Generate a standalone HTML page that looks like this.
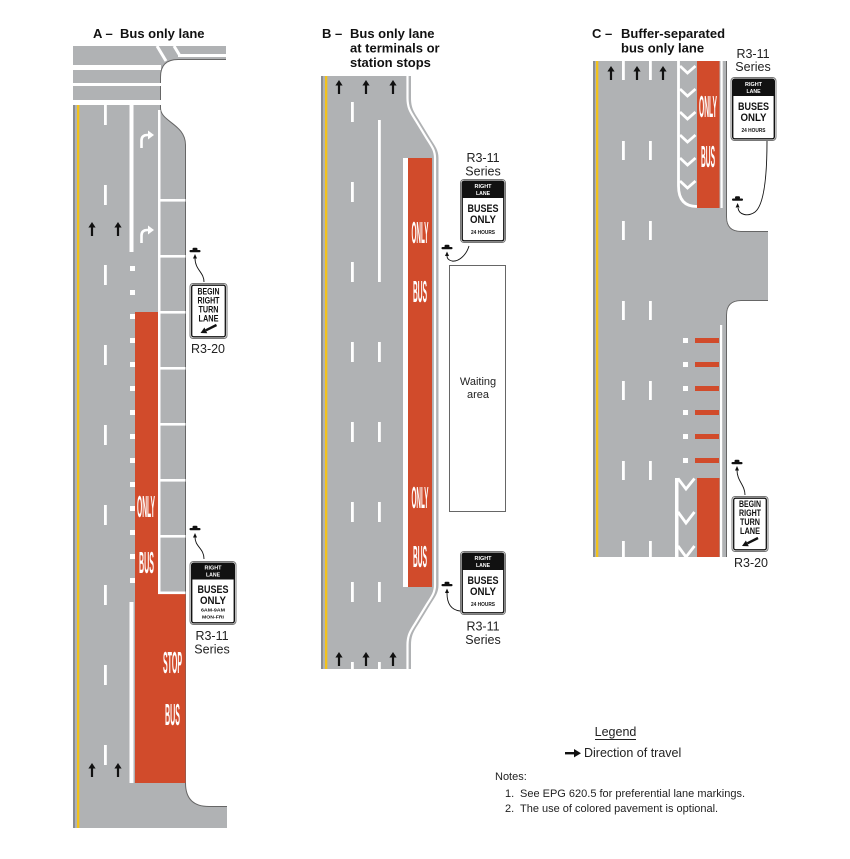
<!DOCTYPE html>
<html><head><meta charset="utf-8"><title>Bus only lane</title>
<style>
html,body{margin:0;padding:0;background:#fff;width:850px;height:859px;overflow:hidden}
svg{display:block}
text{font-family:"Liberation Sans",Arial,sans-serif}
.t{font-size:13px;font-weight:bold;fill:#111}
.l{font-size:12.5px;fill:#222}
.s{font-weight:bold}
.rw{font-weight:bold;fill:#fff;font-size:31px}
</style></head><body>
<svg width="850" height="859" viewBox="0 0 850 859" xmlns="http://www.w3.org/2000/svg" xmlns:xlink="http://www.w3.org/1999/xlink">
<defs>
<path id="ua" d="M0,0 L3.6,5.5 L1.1,5.5 L1.1,14 L-1.1,14 L-1.1,5.5 L-3.6,5.5 Z" fill="#111"/>
<g id="post"><rect x="-5.5" y="0" width="11" height="2.2" rx="1" fill="#111"/><rect x="-2.5" y="-2.2" width="5" height="2.8" rx="1.2" fill="#111"/></g>
</defs>

<!-- ================= PANEL A ================= -->
<text x="93" y="38" class="t">A –</text>
<text x="120" y="38" class="t">Bus only lane</text>

<rect x="73" y="46" width="153" height="14" fill="#b0b2b4"/>
<rect x="73" y="46" width="112.5" height="782" fill="#b0b2b4"/>
<rect x="73" y="780" width="154" height="48" fill="#b0b2b4"/>
<path d="M227,59.5 L178,59.5 Q160.5,59.5 160.5,77 L160.5,108 C160.5,122 185.5,124 185.5,145 L185.5,783 Q185.5,806.5 209,806.5 L240,806.5 L240,59.5 Z" fill="#fff"/>
<path d="M226,59.5 L178,59.5 Q160.5,59.5 160.5,77 L160.5,108 C160.5,122 185.5,124 185.5,145 L185.5,783 Q185.5,806.5 209,806.5 L227,806.5" fill="none" stroke="#666" stroke-width="1"/>

<g fill="#fff">
<rect x="73" y="65" width="88" height="5"/>
<rect x="73" y="83" width="88" height="3"/>
<rect x="73" y="100" width="88" height="5"/>
<rect x="178" y="54" width="48" height="3"/>
</g>
<path d="M157,46 L166,61 M174,46 L179.5,55" stroke="#fff" stroke-width="3" fill="none"/>

<rect x="73" y="105" width="2" height="723" fill="#8a8c8f"/>
<rect x="77" y="105" width="2.3" height="723" fill="#f2c21b"/>

<!-- red lane -->
<rect x="135" y="312" width="23" height="281" fill="#d14b2b"/>
<rect x="135" y="592" width="50.5" height="191" fill="#d14b2b"/>

<g fill="#fff">
<!-- lane dashes -->
<rect x="104" y="105" width="2.8" height="20"/>
<rect x="104" y="185" width="2.8" height="20"/>
<rect x="104" y="265" width="2.8" height="20"/>
<rect x="104" y="345" width="2.8" height="20"/>
<rect x="104" y="425" width="2.8" height="20"/>
<rect x="104" y="505" width="2.8" height="20"/>
<rect x="104" y="585" width="2.8" height="20"/>
<rect x="104" y="665" width="2.8" height="20"/>
<rect x="104" y="745" width="2.8" height="20"/>
<!-- turn lane line -->
<rect x="129.5" y="105" width="4" height="147"/>
<rect x="130" y="266" width="5" height="5"/>
<rect x="130" y="290" width="5" height="5"/>
<rect x="130" y="314" width="5" height="5"/>
<rect x="130" y="338" width="5" height="5"/>
<rect x="130" y="362" width="5" height="5"/>
<rect x="130" y="386" width="5" height="5"/>
<rect x="130" y="410" width="5" height="5"/>
<rect x="130" y="434" width="5" height="5"/>
<rect x="130" y="458" width="5" height="5"/>
<rect x="130" y="482" width="5" height="5"/>
<rect x="130" y="506" width="5" height="5"/>
<rect x="130" y="530" width="5" height="5"/>
<rect x="130" y="554" width="5" height="5"/>
<rect x="130" y="578" width="5" height="5"/>
<rect x="129.5" y="602" width="4" height="181"/>
<!-- parking strip -->
<rect x="158" y="110" width="2.5" height="484"/>
<rect x="158" y="591.5" width="27.5" height="2.6"/>
<rect x="160" y="199" width="25.5" height="2.6"/>
<rect x="160" y="255" width="25.5" height="2.6"/>
<rect x="160" y="311" width="25.5" height="2.6"/>
<rect x="160" y="367" width="25.5" height="2.6"/>
<rect x="160" y="423" width="25.5" height="2.6"/>
<rect x="160" y="479" width="25.5" height="2.6"/>
<rect x="160" y="535" width="25.5" height="2.6"/>
</g>

<!-- turn arrows -->
<g fill="none" stroke="#fff" stroke-width="2.6">
<path d="M141.5,148 L141.5,140.5 Q141.5,135 147.5,135 L149,135"/>
<path d="M141.5,243 L141.5,235.5 Q141.5,230 147.5,230 L149,230"/>
</g>
<g fill="#fff">
<polygon points="148,130.5 154,135 148,139.5"/>
<polygon points="148,225.5 154,230 148,234.5"/>
</g>

<use xlink:href="#ua" x="92" y="222"/>
<use xlink:href="#ua" x="118" y="222"/>
<use xlink:href="#ua" x="92" y="763"/>
<use xlink:href="#ua" x="118" y="763"/>

<text class="rw" x="137" y="517" textLength="18" lengthAdjust="spacingAndGlyphs">ONLY</text>
<text class="rw" x="139" y="573" textLength="15" lengthAdjust="spacingAndGlyphs">BUS</text>
<text class="rw" x="163" y="673" textLength="19" lengthAdjust="spacingAndGlyphs">STOP</text>
<text class="rw" x="165" y="725" textLength="15" lengthAdjust="spacingAndGlyphs">BUS</text>

<!-- A posts & arrows -->
<use xlink:href="#post" x="195" y="250"/>
<path d="M204,282 C204,272 195,270 195,258" fill="none" stroke="#111" stroke-width="0.9"/>
<polygon points="195,254 197,258.5 193,258.5" fill="#111"/>
<use xlink:href="#post" x="195" y="528"/>
<path d="M204,559 C204,548 195,547 195,537" fill="none" stroke="#111" stroke-width="0.9"/>
<polygon points="195,533 197,537.5 193,537.5" fill="#111"/>

<!-- A R3-20 sign -->
<g transform="translate(189.5,283)">
<rect x="0.5" y="0.5" width="37" height="55" rx="3" fill="#fff" stroke="#777" stroke-width="1"/>
<rect x="2.2" y="2.2" width="33.6" height="51.6" rx="1.8" fill="none" stroke="#111" stroke-width="1.3"/>
<g class="s" font-size="9" fill="#111">
<text x="8" y="11.5" textLength="22" lengthAdjust="spacingAndGlyphs">BEGIN</text>
<text x="8" y="20.5" textLength="22" lengthAdjust="spacingAndGlyphs">RIGHT</text>
<text x="9" y="29.5" textLength="20" lengthAdjust="spacingAndGlyphs">TURN</text>
<text x="9" y="38.5" textLength="20" lengthAdjust="spacingAndGlyphs">LANE</text>
</g>
<line x1="27" y1="42" x2="16.4" y2="47.3" stroke="#111" stroke-width="2.4"/>
<polygon points="11,50 17.8,50.2 14.9,44.5" fill="#111"/>
</g>
<text x="208" y="353" class="l" text-anchor="middle">R3-20</text>

<!-- A R3-11 sign -->
<g transform="translate(189.5,561)">
<rect x="0.5" y="0.5" width="46" height="63" rx="3.5" fill="#fff" stroke="#777" stroke-width="1"/>
<rect x="2.2" y="2.2" width="42.6" height="59.6" rx="2" fill="#fff" stroke="#111" stroke-width="1.4"/>
<path d="M2.2,18.5 V4.2 a2,2 0 0 1 2,-2 H42.8 a2,2 0 0 1 2,2 V18.5 Z" fill="#111"/>
<g class="s" fill="#fff" font-size="5.2">
<text x="15" y="8.5" textLength="17" lengthAdjust="spacingAndGlyphs">RIGHT</text>
<text x="16.5" y="15.5" textLength="14" lengthAdjust="spacingAndGlyphs">LANE</text>
</g>
<g class="s" fill="#111">
<text x="8" y="32" font-size="11" textLength="31" lengthAdjust="spacingAndGlyphs">BUSES</text>
<text x="10.5" y="43" font-size="11" textLength="26" lengthAdjust="spacingAndGlyphs">ONLY</text>
<text x="11.5" y="50.5" font-size="4.6" textLength="24" lengthAdjust="spacingAndGlyphs">6AM-9AM</text>
<text x="12.5" y="57.5" font-size="4.6" textLength="22" lengthAdjust="spacingAndGlyphs">MON-FRI</text>
</g>
</g>
<text x="212" y="640" class="l" text-anchor="middle">R3-11</text>
<text x="212" y="653.5" class="l" text-anchor="middle">Series</text>

<!-- ================= PANEL B ================= -->
<text x="322" y="38" class="t">B –</text>
<text x="350" y="38" class="t">Bus only lane</text>
<text x="350" y="52.5" class="t">at terminals or</text>
<text x="350" y="67" class="t">station stops</text>

<path d="M321,76 H411 V98 C411,108 414,112 419,120 L430,138 C435,146 438.5,150 438.5,158 V585 C438.5,593 435,597 430,605 L419,623 C414,631 411,635 411,645 V669 H321 Z" fill="#b0b2b4"/>
<path d="M407.5,76 V98 C407.5,108 410.5,112 415.5,120 L426.5,138 C431.5,146 435,150 435,158 V585 C435,593 431.5,597 426.5,605 L415.5,623 C410.5,631 407.5,635 407.5,645 V669" fill="none" stroke="#fff" stroke-width="2.2"/>
<rect x="321" y="76" width="2" height="593" fill="#8a8c8f"/>
<rect x="325" y="76" width="2.3" height="593" fill="#f2c21b"/>

<g fill="#fff">
<rect x="351" y="102" width="2.8" height="20"/>
<rect x="351" y="182" width="2.8" height="20"/>
<rect x="351" y="262" width="2.8" height="20"/>
<rect x="351" y="342" width="2.8" height="20"/>
<rect x="351" y="422" width="2.8" height="20"/>
<rect x="351" y="502" width="2.8" height="20"/>
<rect x="351" y="582" width="2.8" height="20"/>
<rect x="351" y="662" width="2.8" height="7"/>
<rect x="378" y="120" width="2.8" height="162"/>
<rect x="378" y="342" width="2.8" height="20"/>
<rect x="378" y="422" width="2.8" height="20"/>
<rect x="378" y="502" width="2.8" height="20"/>
<rect x="378" y="582" width="2.8" height="20"/>
<rect x="378" y="662" width="2.8" height="7"/>
<rect x="403" y="158" width="5" height="429"/>
</g>
<rect x="408" y="158" width="24" height="429" fill="#d14b2b"/>

<use xlink:href="#ua" x="339" y="80"/>
<use xlink:href="#ua" x="366" y="80"/>
<use xlink:href="#ua" x="393" y="80"/>
<use xlink:href="#ua" x="339" y="652"/>
<use xlink:href="#ua" x="366" y="652"/>
<use xlink:href="#ua" x="393" y="652"/>

<text class="rw" x="411.5" y="243" textLength="17" lengthAdjust="spacingAndGlyphs">ONLY</text>
<text class="rw" x="413" y="302" textLength="14" lengthAdjust="spacingAndGlyphs">BUS</text>
<text class="rw" x="411.5" y="508" textLength="17" lengthAdjust="spacingAndGlyphs">ONLY</text>
<text class="rw" x="413" y="567" textLength="14" lengthAdjust="spacingAndGlyphs">BUS</text>

<!-- waiting area -->
<rect x="449.5" y="265.5" width="56" height="246" fill="#fff" stroke="#666" stroke-width="1"/>
<text x="478" y="385" font-size="11" fill="#222" text-anchor="middle">Waiting</text>
<text x="478" y="398" font-size="11" fill="#222" text-anchor="middle">area</text>

<!-- B posts -->
<use xlink:href="#post" x="447" y="247"/>
<path d="M469,246 C466,256 458,262 452,261 C448,260 447,258 447,256" fill="none" stroke="#111" stroke-width="0.9"/>
<polygon points="447,251.5 449,256 445,256" fill="#111"/>
<use xlink:href="#post" x="447" y="584"/>
<path d="M460,611 C452,610 447,605 447,593" fill="none" stroke="#111" stroke-width="0.9"/>
<polygon points="447,588.5 449,593 445,593" fill="#111"/>

<!-- B signs -->
<text x="483" y="162" class="l" text-anchor="middle">R3-11</text>
<text x="483" y="175.5" class="l" text-anchor="middle">Series</text>
<g transform="translate(460,179)">
<rect x="0.5" y="0.5" width="45" height="63" rx="3.5" fill="#fff" stroke="#777" stroke-width="1"/>
<rect x="2.2" y="2.2" width="41.6" height="59.6" rx="2" fill="#fff" stroke="#111" stroke-width="1.4"/>
<path d="M2.2,19 V4.2 a2,2 0 0 1 2,-2 H41.8 a2,2 0 0 1 2,2 V19 Z" fill="#111"/>
<g class="s" fill="#fff" font-size="5.2">
<text x="14.5" y="9" textLength="17" lengthAdjust="spacingAndGlyphs">RIGHT</text>
<text x="16" y="16" textLength="14" lengthAdjust="spacingAndGlyphs">LANE</text>
</g>
<g class="s" fill="#111">
<text x="7.5" y="33" font-size="11" textLength="31" lengthAdjust="spacingAndGlyphs">BUSES</text>
<text x="10" y="44" font-size="11" textLength="26" lengthAdjust="spacingAndGlyphs">ONLY</text>
<text x="11" y="55" font-size="5" textLength="24" lengthAdjust="spacingAndGlyphs">24 HOURS</text>
</g>
</g>
<g transform="translate(460,551)">
<rect x="0.5" y="0.5" width="45" height="63" rx="3.5" fill="#fff" stroke="#777" stroke-width="1"/>
<rect x="2.2" y="2.2" width="41.6" height="59.6" rx="2" fill="#fff" stroke="#111" stroke-width="1.4"/>
<path d="M2.2,19 V4.2 a2,2 0 0 1 2,-2 H41.8 a2,2 0 0 1 2,2 V19 Z" fill="#111"/>
<g class="s" fill="#fff" font-size="5.2">
<text x="14.5" y="9" textLength="17" lengthAdjust="spacingAndGlyphs">RIGHT</text>
<text x="16" y="16" textLength="14" lengthAdjust="spacingAndGlyphs">LANE</text>
</g>
<g class="s" fill="#111">
<text x="7.5" y="33" font-size="11" textLength="31" lengthAdjust="spacingAndGlyphs">BUSES</text>
<text x="10" y="44" font-size="11" textLength="26" lengthAdjust="spacingAndGlyphs">ONLY</text>
<text x="11" y="55" font-size="5" textLength="24" lengthAdjust="spacingAndGlyphs">24 HOURS</text>
</g>
</g>
<text x="483" y="630.5" class="l" text-anchor="middle">R3-11</text>
<text x="483" y="644" class="l" text-anchor="middle">Series</text>

<!-- ================= PANEL C ================= -->
<text x="592" y="38" class="t">C –</text>
<text x="621" y="38" class="t">Buffer-separated</text>
<text x="621" y="52.5" class="t">bus only lane</text>

<rect x="593" y="61" width="133" height="496" fill="#b0b2b4"/>
<rect x="725" y="232" width="43" height="68" fill="#b0b2b4"/>
<path d="M726,217 Q726,232 741,232 L726,232 Z M741,300 Q726,300 726,315 L726,300 Z" fill="#b0b2b4"/>
<path d="M726.5,61 V217 Q726.5,231.5 741,231.5 H768 M768,300.5 H741 Q726.5,300.5 726.5,315 V557" fill="none" stroke="#666" stroke-width="1"/>

<rect x="593" y="61" width="2" height="496" fill="#8a8c8f"/>
<rect x="596" y="61" width="2.3" height="496" fill="#f2c21b"/>

<g fill="#fff">
<rect x="622" y="61" width="2.8" height="19"/>
<rect x="622" y="141" width="2.8" height="19"/>
<rect x="622" y="221" width="2.8" height="19"/>
<rect x="622" y="301" width="2.8" height="19"/>
<rect x="622" y="381" width="2.8" height="19"/>
<rect x="622" y="461" width="2.8" height="19"/>
<rect x="622" y="541" width="2.8" height="16"/>
<rect x="649" y="61" width="2.8" height="19"/>
<rect x="649" y="141" width="2.8" height="19"/>
<rect x="649" y="221" width="2.8" height="19"/>
<rect x="649" y="301" width="2.8" height="19"/>
<rect x="649" y="381" width="2.8" height="19"/>
<rect x="649" y="461" width="2.8" height="19"/>
<rect x="649" y="541" width="2.8" height="16"/>
<rect x="720.5" y="61" width="2.2" height="147"/>
<rect x="720" y="325" width="2.2" height="232"/>
<rect x="683" y="338" width="5" height="5"/>
<rect x="683" y="362" width="5" height="5"/>
<rect x="683" y="386" width="5" height="5"/>
<rect x="683" y="410" width="5" height="5"/>
<rect x="683" y="434" width="5" height="5"/>
<rect x="683" y="458" width="5" height="5"/>
<rect x="675" y="478" width="3.5" height="79"/>
</g>
<!-- red lane and bars -->
<rect x="697" y="61" width="22.5" height="147" fill="#d14b2b"/>
<rect x="697" y="478" width="22.5" height="79" fill="#d14b2b"/>
<g fill="#d14b2b">
<rect x="695" y="338" width="24" height="5"/>
<rect x="695" y="362" width="24" height="5"/>
<rect x="695" y="386" width="24" height="5"/>
<rect x="695" y="410" width="24" height="5"/>
<rect x="695" y="434" width="24" height="5"/>
<rect x="695" y="458" width="24" height="5"/>
</g>
<!-- buffer -->
<g fill="none" stroke="#fff" stroke-width="2.8">
<path d="M678.5,61 V186 Q678.5,206.5 697,206.5"/>
<polyline points="680,66 687.5,73 695.5,66"/>
<polyline points="680,89 687.5,96 695.5,89"/>
<polyline points="680,112 687.5,119 695.5,112"/>
<polyline points="680,135 687.5,142 695.5,135"/>
<polyline points="680,158 687.5,165 695.5,158"/>
<polyline points="680,181 687.5,188 695.5,181"/>
<polyline points="678,478.5 686,489 694.5,478.5"/>
<polyline points="678,512 686,523 694.5,512"/>
<polyline points="678,546 686,557 694.5,546"/>
</g>

<use xlink:href="#ua" x="611" y="66"/>
<use xlink:href="#ua" x="637" y="66"/>
<use xlink:href="#ua" x="663" y="66"/>

<text class="rw" x="699" y="117" textLength="18" lengthAdjust="spacingAndGlyphs">ONLY</text>
<text class="rw" x="701" y="167" textLength="14" lengthAdjust="spacingAndGlyphs">BUS</text>

<!-- C posts -->
<use xlink:href="#post" x="737.5" y="198.5"/>
<path d="M767,141 C767,175 764,205 755,212 C748,217 739,215 738,208" fill="none" stroke="#111" stroke-width="0.9"/>
<polygon points="737.6,203 739.6,207.5 735.6,207.5" fill="#111"/>
<use xlink:href="#post" x="737" y="462"/>
<path d="M745,495 C745,485 737,481 737,470" fill="none" stroke="#111" stroke-width="0.9"/>
<polygon points="737,466 739,470.5 735,470.5" fill="#111"/>

<!-- C signs -->
<text x="753" y="58" class="l" text-anchor="middle">R3-11</text>
<text x="753" y="71" class="l" text-anchor="middle">Series</text>
<g transform="translate(730.5,77)">
<rect x="0.5" y="0.5" width="45" height="63" rx="3.5" fill="#fff" stroke="#777" stroke-width="1"/>
<rect x="2.2" y="2.2" width="41.6" height="59.6" rx="2" fill="#fff" stroke="#111" stroke-width="1.4"/>
<path d="M2.2,19 V4.2 a2,2 0 0 1 2,-2 H41.8 a2,2 0 0 1 2,2 V19 Z" fill="#111"/>
<g class="s" fill="#fff" font-size="5.2">
<text x="14.5" y="9" textLength="17" lengthAdjust="spacingAndGlyphs">RIGHT</text>
<text x="16" y="16" textLength="14" lengthAdjust="spacingAndGlyphs">LANE</text>
</g>
<g class="s" fill="#111">
<text x="7.5" y="33" font-size="11" textLength="31" lengthAdjust="spacingAndGlyphs">BUSES</text>
<text x="10" y="44" font-size="11" textLength="26" lengthAdjust="spacingAndGlyphs">ONLY</text>
<text x="11" y="55" font-size="5" textLength="24" lengthAdjust="spacingAndGlyphs">24 HOURS</text>
</g>
</g>
<g transform="translate(731.5,496)">
<rect x="0.5" y="0.5" width="36" height="55" rx="3" fill="#fff" stroke="#777" stroke-width="1"/>
<rect x="2.2" y="2.2" width="32.6" height="51.6" rx="1.8" fill="none" stroke="#111" stroke-width="1.3"/>
<g class="s" font-size="9" fill="#111">
<text x="7.5" y="11" textLength="22" lengthAdjust="spacingAndGlyphs">BEGIN</text>
<text x="7.5" y="20" textLength="22" lengthAdjust="spacingAndGlyphs">RIGHT</text>
<text x="8.5" y="29" textLength="20" lengthAdjust="spacingAndGlyphs">TURN</text>
<text x="8.5" y="38" textLength="20" lengthAdjust="spacingAndGlyphs">LANE</text>
</g>
<line x1="26.5" y1="42" x2="15.9" y2="47.3" stroke="#111" stroke-width="2.4"/>
<polygon points="10.5,50 17.3,50.2 14.4,44.5" fill="#111"/>
</g>
<text x="751" y="567" class="l" text-anchor="middle">R3-20</text>

<!-- ================= LEGEND ================= -->
<text x="615.5" y="736" class="l" text-anchor="middle">Legend</text>
<rect x="595" y="739" width="41" height="1" fill="#222"/>
<rect x="565" y="752" width="10" height="2.4" fill="#111"/>
<polygon points="574,749 581,753.2 574,757.4" fill="#111"/>
<text x="584" y="757" class="l">Direction of travel</text>
<g font-size="11" fill="#222">
<text x="495" y="780">Notes:</text>
<text x="505" y="797">1.</text>
<text x="520" y="797">See EPG 620.5 for preferential lane markings.</text>
<text x="505" y="812">2.</text>
<text x="520" y="812">The use of colored pavement is optional.</text>
</g>
</svg>
</body></html>
